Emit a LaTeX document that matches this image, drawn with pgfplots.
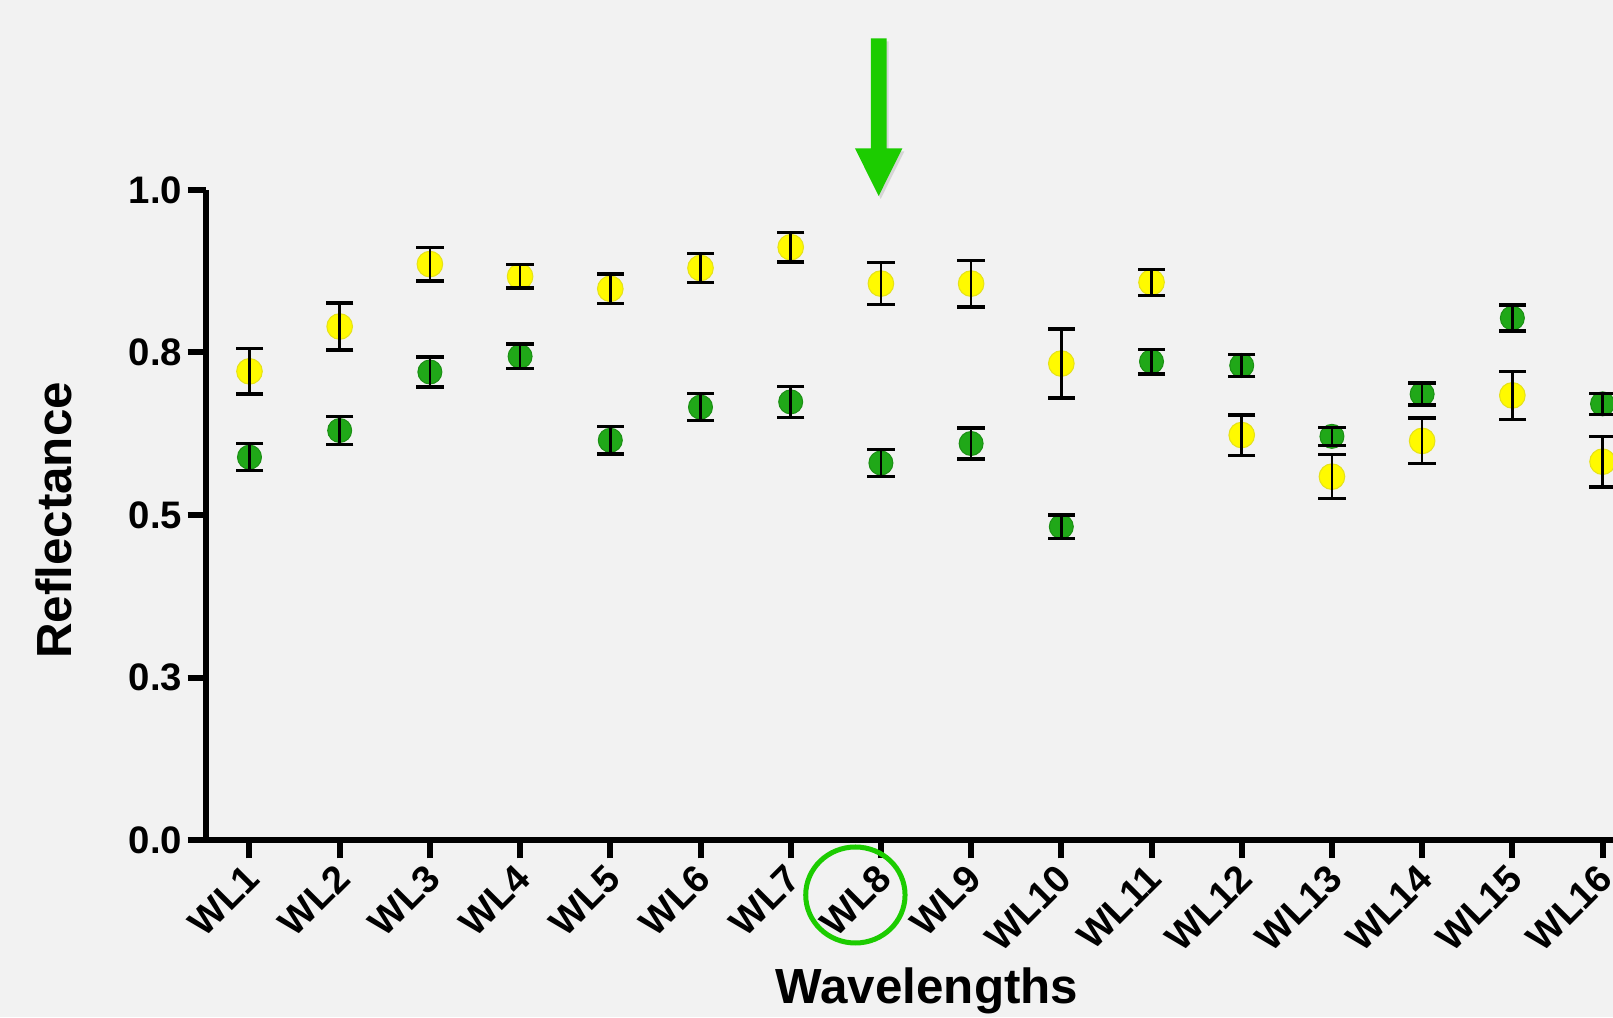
\documentclass[border=0pt]{standalone}
\usepackage{fontspec}
\setmainfont{Liberation Sans}
\usepackage{pgfplots}
\pgfplotsset{compat=1.18}
\usepackage{pgfplotstable}
\usetikzlibrary{shadows}

\definecolor{bg}{RGB}{242,242,242}
\definecolor{ptgreen}{RGB}{32,168,24}
\definecolor{ptyellow}{RGB}{255,250,0}
\definecolor{hlgreen}{RGB}{28,204,0}

% mean reflectance and error (+/-) per wavelength band
\pgfplotstableread{
x y err
1  0.721 0.035
2  0.790 0.036
3  0.886 0.026
4  0.867 0.018
5  0.848 0.023
6  0.880 0.022
7  0.912 0.023
8  0.856 0.032
9  0.856 0.036
10 0.733 0.053
11 0.858 0.020
12 0.623 0.031
13 0.559 0.034
14 0.614 0.035
15 0.684 0.037
16 0.582 0.039
}\yellowdata

\pgfplotstableread{
x y err
1  0.589 0.021
2  0.630 0.022
3  0.720 0.023
4  0.744 0.019
5  0.615 0.021
6  0.666 0.021
7  0.674 0.024
8  0.580 0.021
9  0.610 0.024
10 0.482 0.018
11 0.736 0.019
12 0.730 0.017
13 0.621 0.014
14 0.686 0.017
15 0.803 0.020
16 0.671 0.016
}\greendata

\pgfplotsset{
  % vertical whisker through the mean, drawn above the dots
  whisker/.style={
    draw=none, mark=none, forget plot, on layer=axis foreground,
    error bars/.cd, y dir=both, y explicit, error mark=none,
    error bar style={draw=black, line width=0.8pt},
  },
  % horizontal cap at the end of a whisker
  cap/.style={
    only marks, mark=-, mark size=4.1pt, forget plot, on layer=axis foreground,
    mark options={draw=black, line width=1pt},
  },
}

\begin{document}
\begin{tikzpicture}
\begin{axis}[
  at={(0,0)}, anchor=south west,
  set layers=standard,
  scale only axis,
  width=422.1pt, height=195pt,
  xmin=0.518, xmax=16.116,
  ymin=0, ymax=1,
  clip=false,
  axis lines=left,
  axis line style={-, line width=1.8pt, black},
  tick align=outside,
  major tick length=5.5pt,
  major tick style={line width=1.8pt, black},
  xtick={1,...,16},
  xticklabels={WL1,WL2,WL3,WL4,WL5,WL6,WL7,WL8,WL9,WL10,WL11,WL12,WL13,WL14,WL15,WL16},
  ytick={0,0.25,0.5,0.75,1},
  yticklabels={0.0,0.3,0.5,0.8,1.0},
  ticklabel style={font=\bfseries\fontsize{11.5}{13}\selectfont},
  xticklabel style={rotate=45, anchor=east, xshift=1.3pt, yshift=-3.5pt},
  yticklabel style={inner sep=1.5pt},
  xlabel={Wavelengths},
  ylabel={Reflectance},
  label style={font=\bfseries\fontsize{14.8}{17}\selectfont},
  x label style={at={(axis description cs:0.5124,-0.2508)}, anchor=base},
  y label style={at={(axis description cs:-0.0955,0.4915)}, anchor=base},
]
\begin{pgfonlayer}{axis background}
  \fill[bg] ([xshift=-61.8pt,yshift=-53.1pt]rel axis cs:0,0) rectangle ([yshift=57pt]rel axis cs:1,1);
\end{pgfonlayer}
% yellow group
\addplot[only marks, mark=*, mark size=3.85pt,
  mark options={fill=ptyellow, draw=ptyellow!80!gray, line width=0.3pt}]
  table[x=x, y=y] {\yellowdata};
% green group
\addplot[only marks, mark=*, mark size=3.6pt,
  mark options={fill=ptgreen, draw=ptgreen!85!black, line width=0.3pt}]
  table[x=x, y=y] {\greendata};
% error bars
\addplot[whisker] table[x=x, y=y, y error=err] {\yellowdata};
\addplot[whisker] table[x=x, y=y, y error=err] {\greendata};
\addplot[cap] table[x=x, y expr=\thisrow{y}+\thisrow{err}] {\yellowdata};
\addplot[cap] table[x=x, y expr=\thisrow{y}-\thisrow{err}] {\yellowdata};
\addplot[cap] table[x=x, y expr=\thisrow{y}+\thisrow{err}] {\greendata};
\addplot[cap] table[x=x, y expr=\thisrow{y}-\thisrow{err}] {\greendata};
% highlight of band WL8
\fill[hlgreen, drop shadow={shadow xshift=0.6pt, shadow yshift=-0.9pt, opacity=0.25}]
  ([xshift=-2.36pt]axis cs:7.975,1.2334) -- ([xshift=2.36pt]axis cs:7.975,1.2334)
  -- ([xshift=2.36pt]axis cs:7.975,1.064) -- ([xshift=7.1pt]axis cs:7.975,1.064)
  -- (axis cs:7.975,0.9908) -- ([xshift=-7.1pt]axis cs:7.975,1.064)
  -- ([xshift=-2.36pt]axis cs:7.975,1.064) -- cycle;
\draw[hlgreen, line width=1.5pt] (axis cs:7.717,-0.0846) ellipse [x radius=14.9pt, y radius=14.4pt];
\end{axis}
\pgfresetboundingbox
\useasboundingbox (-61.8pt,-53.1pt) rectangle (422.1pt,252pt);
\end{tikzpicture}
\end{document}
